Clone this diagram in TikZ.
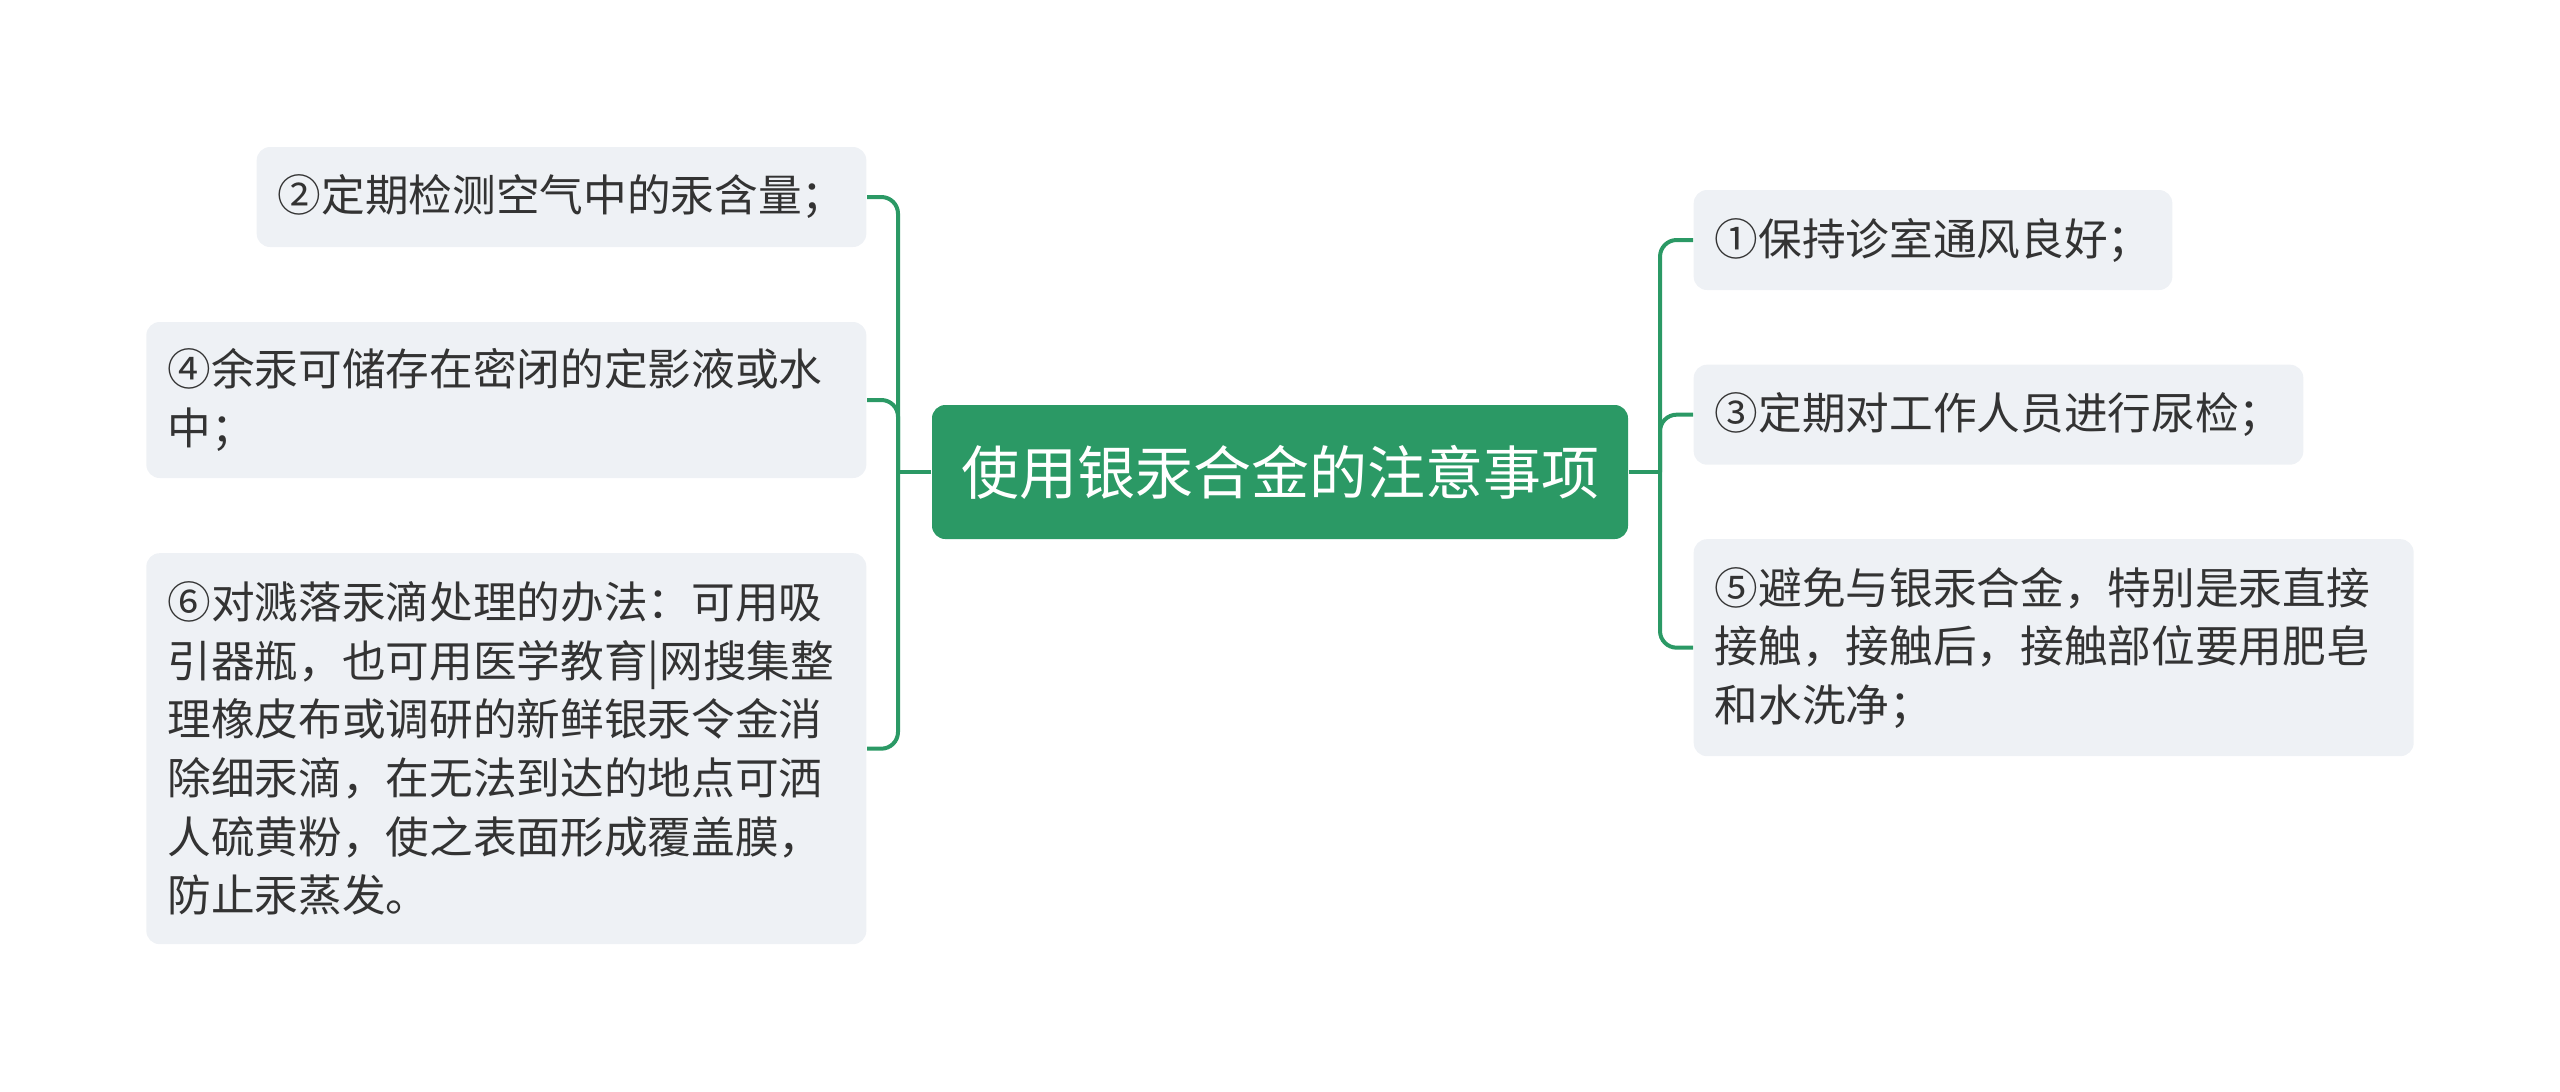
\documentclass[tikz,border=0pt]{standalone}
\usepackage{fontspec}
\setmainfont{Noto Sans CJK SC}
\definecolor{mapgreen}{RGB}{43,153,101}
\definecolor{leafgray}{RGB}{238,241,245}
\definecolor{inkgray}{RGB}{51,51,51}
\tikzset{
  leaf/.style={fill=leafgray, rounded corners=4pt, inner xsep=6.3pt, inner ysep=3pt,
    align=left, text=inkgray, font=\fontsize{13.1pt}{17.6pt}\selectfont, minimum height=30pt},
  wideleaf/.style={leaf, text width=203.4pt},
  root/.style={fill=mapgreen, rounded corners=4pt, text=white,
    font=\fontsize{17.4pt}{20pt}\selectfont, minimum width=208.8pt, minimum height=40.2pt},
  link/.style={draw=mapgreen, line width=1.2pt, rounded corners=5pt},
}
\begin{document}
\begin{tikzpicture}[x=1pt,y=-1pt]
  \useasboundingbox (0,0) rectangle (768,327.3);
  % central topic
  \node[root] (topic) at (384,141.6) {使用银汞合金的注意事项};
  % left branch: 2, 4, 6
  \node[leaf, anchor=east] (n2) at (260.1,59.1) {②定期检测空气中的汞含量；};
  \node[wideleaf, anchor=east, minimum height=46.8pt] (n4) at (260.1,120)
    {④余汞可储存在密闭的定影液或水\\中；};
  \node[wideleaf, anchor=east, minimum height=117.3pt] (n6) at (260.1,224.6)
    {⑥对溅落汞滴处理的办法：可用吸\\引器瓶，也可用医学教育|网搜集整\\理橡皮布或调研的新鲜银汞令金消\\除细汞滴，在无法到达的地点可洒\\人硫黄粉，使之表面形成覆盖膜，\\防止汞蒸发。};
  % right branch: 1, 3, 5
  \node[leaf, anchor=west] (n1) at (507.9,72) {①保持诊室通风良好；};
  \node[leaf, anchor=west] (n3) at (507.9,124.4) {③定期对工作人员进行尿检；};
  \node[wideleaf, anchor=west, minimum height=65.1pt] (n5) at (507.9,194.3)
    {⑤避免与银汞合金，特别是汞直接\\接触，接触后，接触部位要用肥皂\\和水洗净；};
  % connectors
  \coordinate (lhub) at (269.4,141.6);
  \coordinate (rhub) at (498,141.6);
  \draw[link] (topic.west) -- (lhub);
  \draw[link] (topic.east) -- (rhub);
  \foreach \n in {n2,n4,n6} \draw[link] (lhub) |- (\n.east);
  \foreach \n in {n1,n3,n5} \draw[link] (rhub) |- (\n.west);
\end{tikzpicture}
\end{document}
